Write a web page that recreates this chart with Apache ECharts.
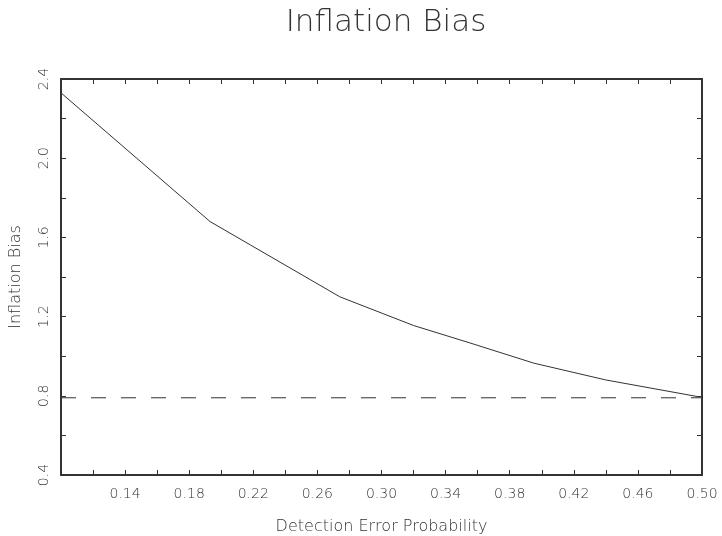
<!DOCTYPE html>
<html>
<head>
<meta charset="utf-8">
<script src="https://cdn.jsdelivr.net/npm/echarts@6/dist/echarts.min.js"></script>
<style>html,body{margin:0;padding:0;background:#fff;}#c{width:722px;height:536px;}</style>
</head>
<body>
<div id="c"></div>
<script>
var titleText = "Inflation Bias";
var xName = "Detection Error Probability";
var yName = "Inflation Bias";
var xVals = [0.100, 0.193, 0.274, 0.320, 0.354, 0.395, 0.440, 0.498];
var biasVals = [2.33, 1.68, 1.30, 1.155, 1.07, 0.965, 0.88, 0.795];
var refX = [0.10, 0.50];
var refY = [0.79, 0.79];

var FONT = "DejaVu Sans";
var COL = "#333";
var chart = echarts.init(document.getElementById('c'), null, {renderer: 'canvas'});
var axisCommon = {
  axisLine: {show: true, lineStyle: {color: COL, width: 2}},
  axisTick: {show: true, inside: true, length: 5, lineStyle: {color: COL, width: 1}},
  splitLine: {show: false}
};
chart.setOption({
  animation: false,
  backgroundColor: '#fff',
  title: {
    text: titleText, left: 381, textAlign: 'center', top: 2,
    textStyle: {fontFamily: FONT, fontWeight: 200, fontSize: 31, color: COL}
  },
  grid: {left: 61, right: 20, top: 79, bottom: 61, containLabel: false, outerBoundsMode: 'none'},
  xAxis: [
    Object.assign({
      type: 'value', min: 0.10, max: 0.50, interval: 0.02, position: 'bottom',
      name: xName, nameLocation: 'middle', nameGap: 44,
      nameTextStyle: {fontFamily: FONT, fontWeight: 200, fontSize: 16, color: COL},
      axisLabel: {
        fontFamily: FONT, fontWeight: 200, fontSize: 14, color: COL, margin: 12,
        formatter: function (v) {
          var r = Math.round(v * 100);
          return (r > 10 && (r - 10) % 4 === 0) ? v.toFixed(2) : '';
        }
      }
    }, axisCommon),
    Object.assign({
      type: 'value', min: 0.10, max: 0.50, interval: 0.02, position: 'top',
      axisLabel: {show: false}
    }, axisCommon)
  ],
  yAxis: [
    Object.assign({
      type: 'value', min: 0.4, max: 2.4, interval: 0.2, position: 'left',
      name: yName, nameLocation: 'middle', nameGap: 37, nameRotate: 90,
      nameTextStyle: {fontFamily: FONT, fontWeight: 200, fontSize: 16, color: COL},
      axisLabel: {
        fontFamily: FONT, fontWeight: 200, fontSize: 14, color: COL, rotate: 90, margin: 10,
        formatter: function (v) {
          var r = Math.round(v * 10);
          return (r % 4 === 0) ? v.toFixed(1) : '';
        }
      }
    }, axisCommon),
    Object.assign({
      type: 'value', min: 0.4, max: 2.4, interval: 0.2, position: 'right',
      axisLabel: {show: false}
    }, axisCommon)
  ],
  series: [
    {
      type: 'line', xAxisIndex: 0, yAxisIndex: 0, showSymbol: false, symbol: 'none',
      data: xVals.map(function (x, i) { return [x, biasVals[i]]; }),
      lineStyle: {color: COL, width: 1}
    },
    {
      type: 'line', xAxisIndex: 0, yAxisIndex: 0, showSymbol: false, symbol: 'none',
      data: refX.map(function (x, i) { return [x, refY[i]]; }),
      lineStyle: {color: COL, width: 1, type: [15, 15]}
    }
  ]
});
</script>
</body>
</html>
